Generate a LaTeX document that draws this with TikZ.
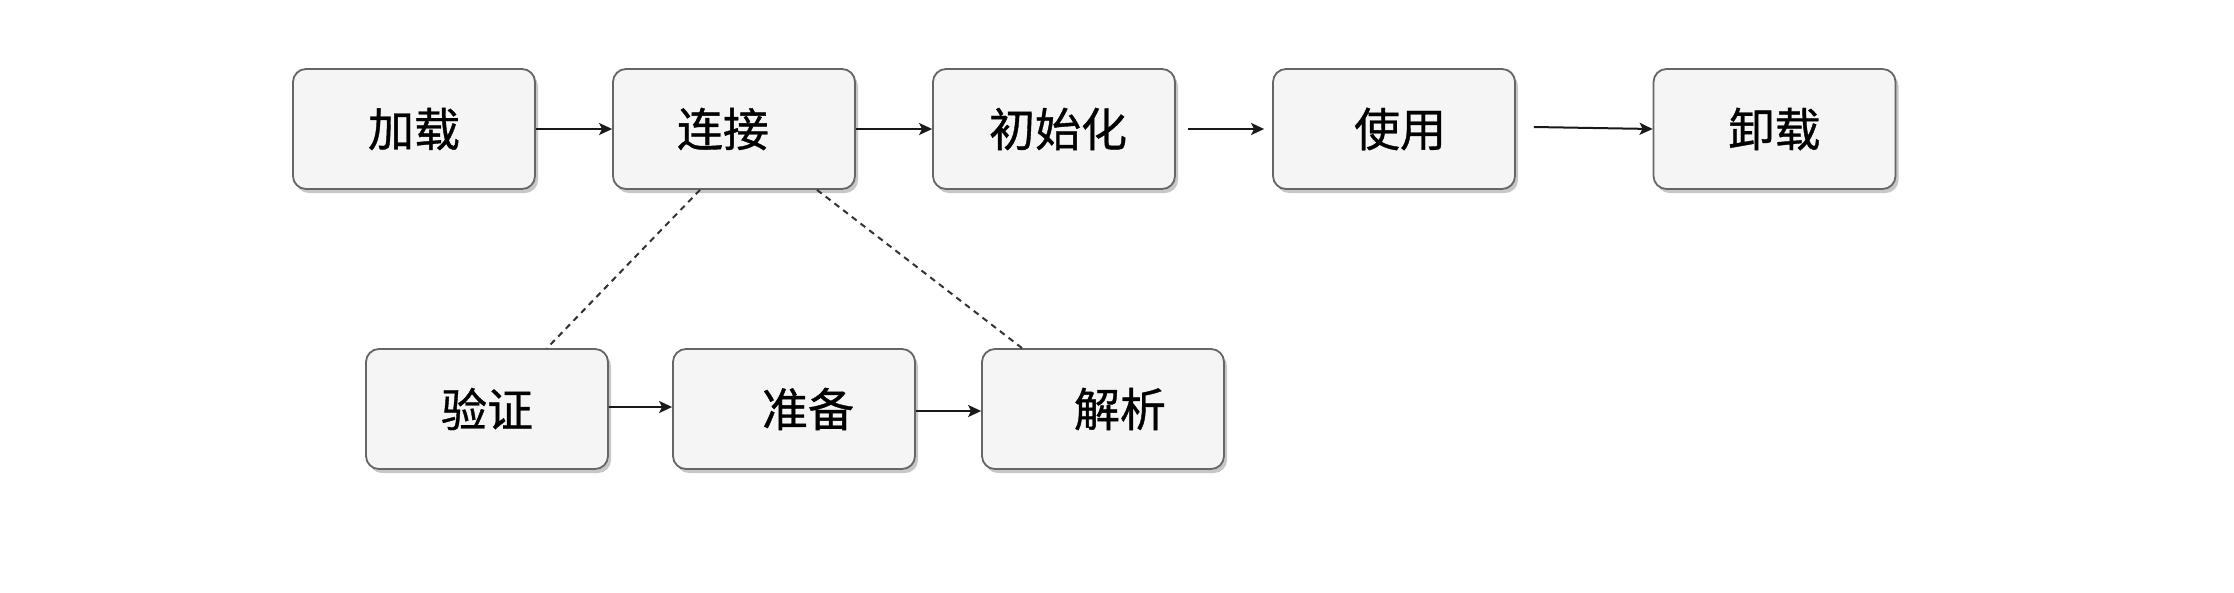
\documentclass[tikz,border=0pt]{standalone}
\usepackage{fontspec}
\newfontfamily\cjk[FakeBold=0.8]{Noto Sans CJK SC}
\usetikzlibrary{arrows.meta,shadows}
\tikzset{
  stagebox/.style={rectangle, rounded corners=13pt, draw=black!60, line width=1.8pt,
    fill=black!4, minimum width=242pt, minimum height=120pt, inner sep=0pt,
    font=\cjk\fontsize{46}{56}\selectfont,
    drop shadow={shadow xshift=3pt, shadow yshift=-4pt, fill=black, opacity=0.22}},
  flowarrow/.style={draw=black!90, line width=2pt, -{Stealth[length=13pt, width=12pt, inset=3pt]}},
  linkline/.style={draw=black!80, line width=2pt, dash pattern=on 6pt off 5pt}
}
\begin{document}
\begin{tikzpicture}[x=1pt, y=-1pt]
\useasboundingbox[fill=white] (0,0) rectangle (2234,592);
\node[stagebox] (load) at (414,129) {加载};
\node[stagebox] (link) at (734,129) {连接\hspace*{22pt}};
\node[stagebox] (init) at (1054,129) {\hspace*{8pt}初始化};
\node[stagebox] (use) at (1394,129) {\hspace*{12pt}使用};
\node[stagebox] (unload) at (1774.5,129) {卸载};
\node[stagebox] (verify) at (487,409) {验证};
\node[stagebox] (prep) at (794,409) {\hspace*{28pt}准备};
\node[stagebox] (parse) at (1103,409) {\hspace*{34pt}解析};
\draw[flowarrow] (load) -- (link);
\draw[flowarrow] (link) -- (init);
\draw[flowarrow] ([xshift=12pt]init.east) -- ([xshift=-8pt]use.west);
\draw[flowarrow] ([xshift=18pt,yshift=2pt]use.east) -- (unload.west);
\draw[flowarrow] ([yshift=2pt]verify.east) -- ([yshift=2pt]prep.west);
\draw[flowarrow] ([yshift=-2pt]prep.east) -- ([yshift=-2pt]parse.west);
\draw[linkline] ([xshift=-34pt]link.south) -- ([xshift=60pt]verify.north);
\draw[linkline] ([xshift=83pt]link.south) -- ([xshift=-81pt]parse.north);
\end{tikzpicture}
\end{document}
